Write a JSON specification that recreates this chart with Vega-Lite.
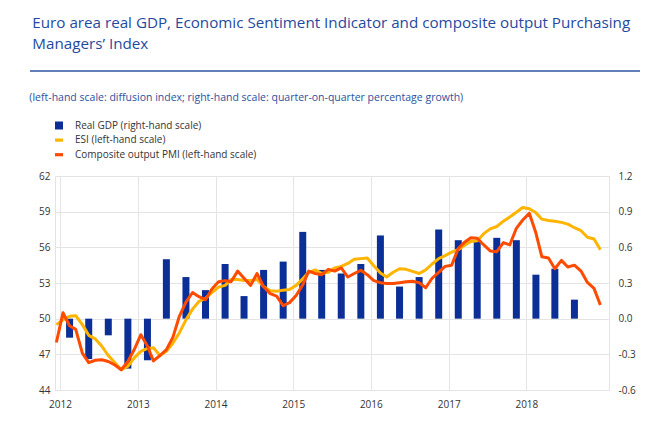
{
  "$schema": "https://vega.github.io/schema/vega-lite/v6.json",
  "background": "white",
  "padding": {"left": 29, "top": 15, "right": 5, "bottom": 5},
  "title": {
    "text": ["Euro area real GDP, Economic Sentiment Indicator and composite output Purchasing", "Managers’ Index"],
    "anchor": "start",
    "font": "Open Sans",
    "fontSize": 15.2,
    "fontWeight": "normal",
    "color": "#1f4a9f",
    "lineHeight": 21,
    "offset": 18,
    "dx": 3
  },
  "datasets": {
    "gdp": [
      {"date": "2012-02-15", "gdp": -0.16},
      {"date": "2012-05-15", "gdp": -0.34},
      {"date": "2012-08-15", "gdp": -0.14},
      {"date": "2012-11-15", "gdp": -0.42},
      {"date": "2013-02-15", "gdp": -0.35},
      {"date": "2013-05-15", "gdp": 0.50},
      {"date": "2013-08-15", "gdp": 0.35},
      {"date": "2013-11-15", "gdp": 0.24},
      {"date": "2014-02-15", "gdp": 0.46},
      {"date": "2014-05-15", "gdp": 0.19},
      {"date": "2014-08-15", "gdp": 0.41},
      {"date": "2014-11-15", "gdp": 0.48},
      {"date": "2015-02-15", "gdp": 0.73},
      {"date": "2015-05-15", "gdp": 0.41},
      {"date": "2015-08-15", "gdp": 0.38},
      {"date": "2015-11-15", "gdp": 0.46},
      {"date": "2016-02-15", "gdp": 0.70},
      {"date": "2016-05-15", "gdp": 0.27},
      {"date": "2016-08-15", "gdp": 0.35},
      {"date": "2016-11-15", "gdp": 0.75},
      {"date": "2017-02-15", "gdp": 0.66},
      {"date": "2017-05-15", "gdp": 0.65},
      {"date": "2017-08-15", "gdp": 0.68},
      {"date": "2017-11-15", "gdp": 0.66},
      {"date": "2018-02-15", "gdp": 0.37},
      {"date": "2018-05-15", "gdp": 0.42},
      {"date": "2018-08-15", "gdp": 0.16}
    ],
    "monthly": [
      {"date": "2011-12-15", "ESI": 49.5, "PMI": 48.0},
      {"date": "2012-01-15", "ESI": 49.9, "PMI": 50.5},
      {"date": "2012-02-15", "ESI": 50.2, "PMI": 49.4},
      {"date": "2012-03-15", "ESI": 50.25, "PMI": 49.1},
      {"date": "2012-04-15", "ESI": 49.5, "PMI": 47.1},
      {"date": "2012-05-15", "ESI": 48.6, "PMI": 46.3},
      {"date": "2012-06-15", "ESI": 48.3, "PMI": 46.5},
      {"date": "2012-07-15", "ESI": 47.7, "PMI": 46.55},
      {"date": "2012-08-15", "ESI": 46.9, "PMI": 46.4},
      {"date": "2012-09-15", "ESI": 46.3, "PMI": 46.1},
      {"date": "2012-10-15", "ESI": 45.7, "PMI": 45.7},
      {"date": "2012-11-15", "ESI": 46.0, "PMI": 46.4},
      {"date": "2012-12-15", "ESI": 46.7, "PMI": 47.4},
      {"date": "2013-01-15", "ESI": 47.25, "PMI": 48.65},
      {"date": "2013-02-15", "ESI": 47.5, "PMI": 47.7},
      {"date": "2013-03-15", "ESI": 47.55, "PMI": 46.45},
      {"date": "2013-04-15", "ESI": 46.9, "PMI": 46.9},
      {"date": "2013-05-15", "ESI": 47.25, "PMI": 47.4},
      {"date": "2013-06-15", "ESI": 47.95, "PMI": 48.45},
      {"date": "2013-07-15", "ESI": 48.8, "PMI": 50.2},
      {"date": "2013-08-15", "ESI": 49.9, "PMI": 51.4},
      {"date": "2013-09-15", "ESI": 50.8, "PMI": 52.2},
      {"date": "2013-10-15", "ESI": 51.45, "PMI": 51.85},
      {"date": "2013-11-15", "ESI": 51.7, "PMI": 51.6},
      {"date": "2013-12-15", "ESI": 52.2, "PMI": 52.5},
      {"date": "2014-01-15", "ESI": 52.65, "PMI": 53.1},
      {"date": "2014-02-15", "ESI": 52.8, "PMI": 53.2},
      {"date": "2014-03-15", "ESI": 53.3, "PMI": 53.1},
      {"date": "2014-04-15", "ESI": 53.3, "PMI": 54.0},
      {"date": "2014-05-15", "ESI": 53.2, "PMI": 53.4},
      {"date": "2014-06-15", "ESI": 53.2, "PMI": 52.8},
      {"date": "2014-07-15", "ESI": 53.3, "PMI": 53.8},
      {"date": "2014-08-15", "ESI": 52.7, "PMI": 52.7},
      {"date": "2014-09-15", "ESI": 52.35, "PMI": 52.1},
      {"date": "2014-10-15", "ESI": 52.3, "PMI": 51.9},
      {"date": "2014-11-15", "ESI": 52.4, "PMI": 51.1},
      {"date": "2014-12-15", "ESI": 52.45, "PMI": 51.35},
      {"date": "2015-01-15", "ESI": 52.8, "PMI": 51.95},
      {"date": "2015-02-15", "ESI": 53.35, "PMI": 52.85},
      {"date": "2015-03-15", "ESI": 53.9, "PMI": 54.0},
      {"date": "2015-04-15", "ESI": 54.1, "PMI": 53.8},
      {"date": "2015-05-15", "ESI": 53.8, "PMI": 53.7},
      {"date": "2015-06-15", "ESI": 53.9, "PMI": 54.15},
      {"date": "2015-07-15", "ESI": 54.27, "PMI": 54.0},
      {"date": "2015-08-15", "ESI": 54.4, "PMI": 54.27},
      {"date": "2015-09-15", "ESI": 54.65, "PMI": 53.5},
      {"date": "2015-10-15", "ESI": 55.0, "PMI": 53.8},
      {"date": "2015-11-15", "ESI": 55.05, "PMI": 54.07},
      {"date": "2015-12-15", "ESI": 55.1, "PMI": 53.7},
      {"date": "2016-01-15", "ESI": 54.45, "PMI": 53.2},
      {"date": "2016-02-15", "ESI": 53.85, "PMI": 53.03},
      {"date": "2016-03-15", "ESI": 53.5, "PMI": 52.95},
      {"date": "2016-04-15", "ESI": 53.9, "PMI": 52.95},
      {"date": "2016-05-15", "ESI": 54.2, "PMI": 53.03},
      {"date": "2016-06-15", "ESI": 54.15, "PMI": 53.1},
      {"date": "2016-07-15", "ESI": 53.98, "PMI": 53.14},
      {"date": "2016-08-15", "ESI": 53.8, "PMI": 53.03},
      {"date": "2016-09-15", "ESI": 54.1, "PMI": 52.6},
      {"date": "2016-10-15", "ESI": 54.6, "PMI": 53.4},
      {"date": "2016-11-15", "ESI": 55.05, "PMI": 53.9},
      {"date": "2016-12-15", "ESI": 55.3, "PMI": 54.4},
      {"date": "2017-01-15", "ESI": 55.6, "PMI": 54.5},
      {"date": "2017-02-15", "ESI": 55.8, "PMI": 55.9},
      {"date": "2017-03-15", "ESI": 56.15, "PMI": 56.4},
      {"date": "2017-04-15", "ESI": 56.5, "PMI": 56.8},
      {"date": "2017-05-15", "ESI": 56.55, "PMI": 56.76},
      {"date": "2017-06-15", "ESI": 57.15, "PMI": 56.2},
      {"date": "2017-07-15", "ESI": 57.55, "PMI": 55.7},
      {"date": "2017-08-15", "ESI": 57.75, "PMI": 55.63},
      {"date": "2017-09-15", "ESI": 58.2, "PMI": 56.4},
      {"date": "2017-10-15", "ESI": 58.55, "PMI": 56.2},
      {"date": "2017-11-15", "ESI": 58.95, "PMI": 57.6},
      {"date": "2017-12-15", "ESI": 59.35, "PMI": 58.3},
      {"date": "2018-01-15", "ESI": 59.25, "PMI": 58.87},
      {"date": "2018-02-15", "ESI": 58.9, "PMI": 57.2},
      {"date": "2018-03-15", "ESI": 58.37, "PMI": 55.2},
      {"date": "2018-04-15", "ESI": 58.25, "PMI": 55.1},
      {"date": "2018-05-15", "ESI": 58.2, "PMI": 54.2},
      {"date": "2018-06-15", "ESI": 58.1, "PMI": 54.9},
      {"date": "2018-07-15", "ESI": 57.95, "PMI": 54.35},
      {"date": "2018-08-15", "ESI": 57.65, "PMI": 54.5},
      {"date": "2018-09-15", "ESI": 57.4, "PMI": 54.0},
      {"date": "2018-10-15", "ESI": 56.85, "PMI": 53.05},
      {"date": "2018-11-15", "ESI": 56.7, "PMI": 52.55},
      {"date": "2018-12-15", "ESI": 55.8, "PMI": 51.15}
    ]
  },
  "spacing": 16,
  "resolve": {"legend": {"color": "independent"}, "scale": {"color": "independent"}},
  "vconcat": [
    {
      "width": 585,
      "height": 1,
      "view": {"stroke": null},
      "data": {"values": [{"k": 0}]},
      "mark": {"type": "rule", "color": "#2f55a4", "strokeWidth": 1.3, "xOffset": -25, "clip": false},
      "encoding": {
        "x": {"datum": 0, "type": "quantitative", "scale": {"domain": [0, 1]}, "axis": null},
        "x2": {"datum": 1},
        "y": {"datum": 0, "type": "quantitative", "scale": {"domain": [0, 1]}, "axis": null}
      },
      "title": {
        "text": "(left-hand scale: diffusion index; right-hand scale: quarter-on-quarter percentage growth)",
        "orient": "bottom",
        "anchor": "start",
        "font": "Open Sans",
        "fontSize": 10.5,
        "fontWeight": "normal",
        "color": "#2a52a0",
        "offset": 21,
        "dx": 0
      }
    },
    {
      "width": 554,
      "height": 214,
      "layer": [
        {
          "data": {"name": "gdp"},
          "mark": {"type": "bar", "size": 7},
          "encoding": {
            "x": {
              "field": "date",
              "type": "temporal",
              "scale": {"domain": [{"year": 2012, "month": 1, "date": 1}, {"year": 2019, "month": 1, "date": 1}]},
              "axis": {
                "title": null,
                "format": "%Y",
                "values": [
                  {"year": 2012, "month": 1, "date": 1},
                  {"year": 2013, "month": 1, "date": 1},
                  {"year": 2014, "month": 1, "date": 1},
                  {"year": 2015, "month": 1, "date": 1},
                  {"year": 2016, "month": 1, "date": 1},
                  {"year": 2017, "month": 1, "date": 1},
                  {"year": 2018, "month": 1, "date": 1}
                ],
                "grid": true,
                "labelPadding": 9,
                "labelFlush": false
              }
            },
            "y": {
              "field": "gdp",
              "type": "quantitative",
              "scale": {"domain": [-0.6, 1.2], "nice": false, "zero": false},
              "axis": {
                "orient": "right",
                "title": null,
                "values": [-0.6, -0.3, 0, 0.3, 0.6, 0.9, 1.2],
                "labelExpr": "replace(format(datum.value, '.1f'), '\u2212', '-')",
                "grid": false,
                "labelPadding": 9
              }
            },
            "y2": {"datum": 0},
            "color": {
              "datum": "Real GDP",
              "type": "nominal",
              "scale": {"domain": ["Real GDP", "ESI", "PMI"], "range": ["#0b2f97", "#ffb400", "#ff4b00"]},
              "legend": {
                "orient": "none",
                "legendX": -1,
                "legendY": -55.5,
                "title": null,
                "labelFont": "Open Sans",
                "labelFontSize": 10,
                "labelColor": "#333333",
                "labelOffset": 11,
                "labelLimit": 400,
                "rowPadding": 4.6,
                "symbolSize": 64,
                "symbolStrokeWidth": 0,
                "labelExpr": "datum.label == 'Real GDP' ? 'Real GDP (right-hand scale)' : datum.label == 'ESI' ? 'ESI (left-hand scale)' : 'Composite output PMI (left-hand scale)'",
                "encode": {
                  "symbols": {
                    "update": {
                      "shape": {"signal": "datum.value == 'Real GDP' ? 'square' : 'M-1,-0.4H1V0.4H-1Z'"},
                      "fill": {"signal": "datum.value == 'Real GDP' ? '#0b2f97' : datum.value == 'ESI' ? '#ffb400' : '#ff4b00'"},
                      "stroke": {"value": "transparent"},
                      "opacity": {"value": 1}
                    }
                  }
                }
              }
            }
          }
        },
        {
          "data": {"name": "monthly"},
          "transform": [{"fold": ["ESI", "PMI"], "as": ["series", "value"]}],
          "mark": {"type": "line", "strokeWidth": 3, "clip": true, "strokeJoin": "round"},
          "encoding": {
            "x": {"field": "date", "type": "temporal"},
            "y": {
              "field": "value",
              "type": "quantitative",
              "scale": {"domain": [44, 62], "nice": false, "zero": false},
              "axis": {
                "orient": "left",
                "title": null,
                "values": [44, 47, 50, 53, 56, 59, 62],
                "grid": true,
                "labelPadding": 5,
                "minExtent": 25
              }
            },
            "color": {"field": "series", "type": "nominal", "legend": {"title": null}}
          }
        }
      ],
      "resolve": {"scale": {"y": "independent"}}
    }
  ],
  "config": {
    "view": {"stroke": "#e4e4e4"},
    "axis": {
      "labelFont": "Open Sans",
      "labelFontSize": 10,
      "labelColor": "#333333",
      "ticks": false,
      "domain": false,
      "gridColor": "#e4e4e4",
      "gridWidth": 1
    }
  }
}
